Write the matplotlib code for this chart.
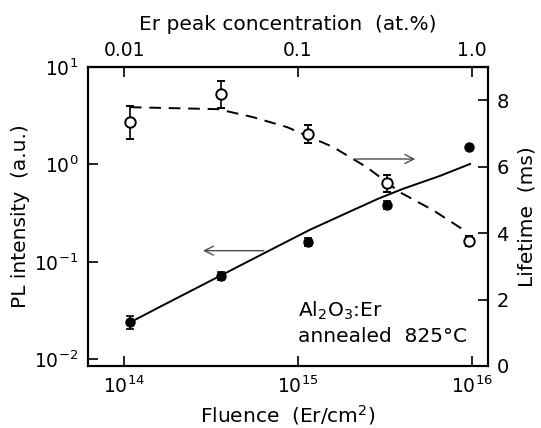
import numpy as np
import matplotlib
matplotlib.use('Agg')
import matplotlib.pyplot as plt

plt.rcParams['font.family'] = 'DejaVu Sans'
plt.rcParams['font.size'] = 13.5
plt.rcParams['mathtext.fontset'] = 'dejavusans'

# PL intensity (filled circles, left axis)
fluence = [1.08e14, 3.61e14, 1.14e15, 3.24e15, 9.6e15]
pl = [0.0243, 0.0718, 0.160, 0.384, 1.51]
pl_lo = [0.0203, 0.0653, 0.146, 0.350, 1.51]
pl_hi = [0.0279, 0.0789, 0.176, 0.423, 1.51]

# lifetime (open circles, right axis)
life = [7.34, 8.18, 6.98, 5.50, 3.76]
life_err = [0.5, 0.4, 0.27, 0.25, 0.15]

# solid line through PL data
pl_fit_x = [1.13e14, 1.61e14, 6.64e14, 1.17e15, 2.07e15, 2.88e15, 4.01e15, 6.55e15, 9.75e15]
pl_fit_y = [0.0248, 0.0345, 0.127, 0.213, 0.339, 0.443, 0.561, 0.762, 1.01]

# dashed line through lifetime data
life_fit_x = [1.08e14, 3.47e14, 5.51e14, 8.65e14, 1.59e15, 2.49e15, 3.85e15, 5.97e15, 9.35e15]
life_fit_y = [7.79, 7.73, 7.49, 7.19, 6.59, 5.98, 5.23, 4.69, 4.03]

fig = plt.figure(figsize=(5.41, 4.28), dpi=100)
ax = fig.add_axes([0.1627, 0.1449, 0.7394, 0.6986])
ax2 = ax.twinx()

ax.set_xscale('log')
ax.set_yscale('log')
ax.set_xlim(10**13.793, 10**16.092)
ax.set_ylim(10**-2.07, 10**1)
ax2.set_ylim(0, 9)

# PL
yerr = [np.array(pl) - np.array(pl_lo), np.array(pl_hi) - np.array(pl)]
ax.errorbar(fluence, pl, yerr=yerr, fmt='o', color='k', ms=6.5, capsize=3,
            elinewidth=1.2, capthick=1.2, zorder=3)
ax.plot(pl_fit_x, pl_fit_y, 'k-', lw=1.4)

# lifetime
ax2.errorbar(fluence, life, yerr=life_err, fmt='o', mfc='white', mec='k', mew=1.4,
             color='k', ms=7.5, capsize=3, elinewidth=1.2, capthick=1.2, zorder=3)
ax2.plot(life_fit_x, life_fit_y, 'k--', lw=1.4, dashes=(6, 4))

# arrows pointing to axes
ax.annotate('', xy=(2.74e14, 0.130), xytext=(6.6e14, 0.130),
            arrowprops=dict(arrowstyle='->', color='0.3', lw=1.0, mutation_scale=16))
ax2.annotate('', xy=(4.9e15, 6.23), xytext=(2.04e15, 6.23),
             arrowprops=dict(arrowstyle='->', color='0.3', lw=1.0, mutation_scale=16))

ax.text(0.525, 0.184, 'Al$_2$O$_3$:Er', transform=ax.transAxes, va='center', fontsize=14.5)
ax.text(0.525, 0.097, 'annealed  825\u00b0C', transform=ax.transAxes, va='center', fontsize=14.5)

# ticks
ax.set_xticks([1e14, 1e15, 1e16])
ax.set_yticks([1e-2, 1e-1, 1e0, 1e1])
ax.minorticks_off()
ax.tick_params(which='major', direction='in', length=7, width=1.2, pad=7)
ax.tick_params(axis='x', which='both', top=False)
ax2.set_yticks([0, 2, 4, 6, 8])
ax2.tick_params(direction='in', length=7, width=1.2, pad=6, labelsize=14)

top = ax.secondary_xaxis('top', functions=(lambda x: x * 1e-16, lambda c: c * 1e16))
top.set_xticks([0.01, 0.1, 1.0])
top.set_xticklabels(['0.01', '0.1', '1.0'])
top.minorticks_off()
top.tick_params(direction='in', length=7, width=1.2, pad=5)
top.set_xlabel('Er peak concentration  (at.%)', labelpad=8, fontsize=14.5)

for a in (ax, ax2):
    for s in a.spines.values():
        s.set_linewidth(1.5)
top.spines['top'].set_linewidth(1.5)

ax.set_xlabel('Fluence  (Er/cm$^2$)', labelpad=4, fontsize=14.5)
ax.set_ylabel('PL intensity  (a.u.)', labelpad=3, fontsize=14.5)
ax2.set_ylabel('Lifetime  (ms)', labelpad=6, fontsize=14.5)

fig.savefig('out.png', dpi=100)
